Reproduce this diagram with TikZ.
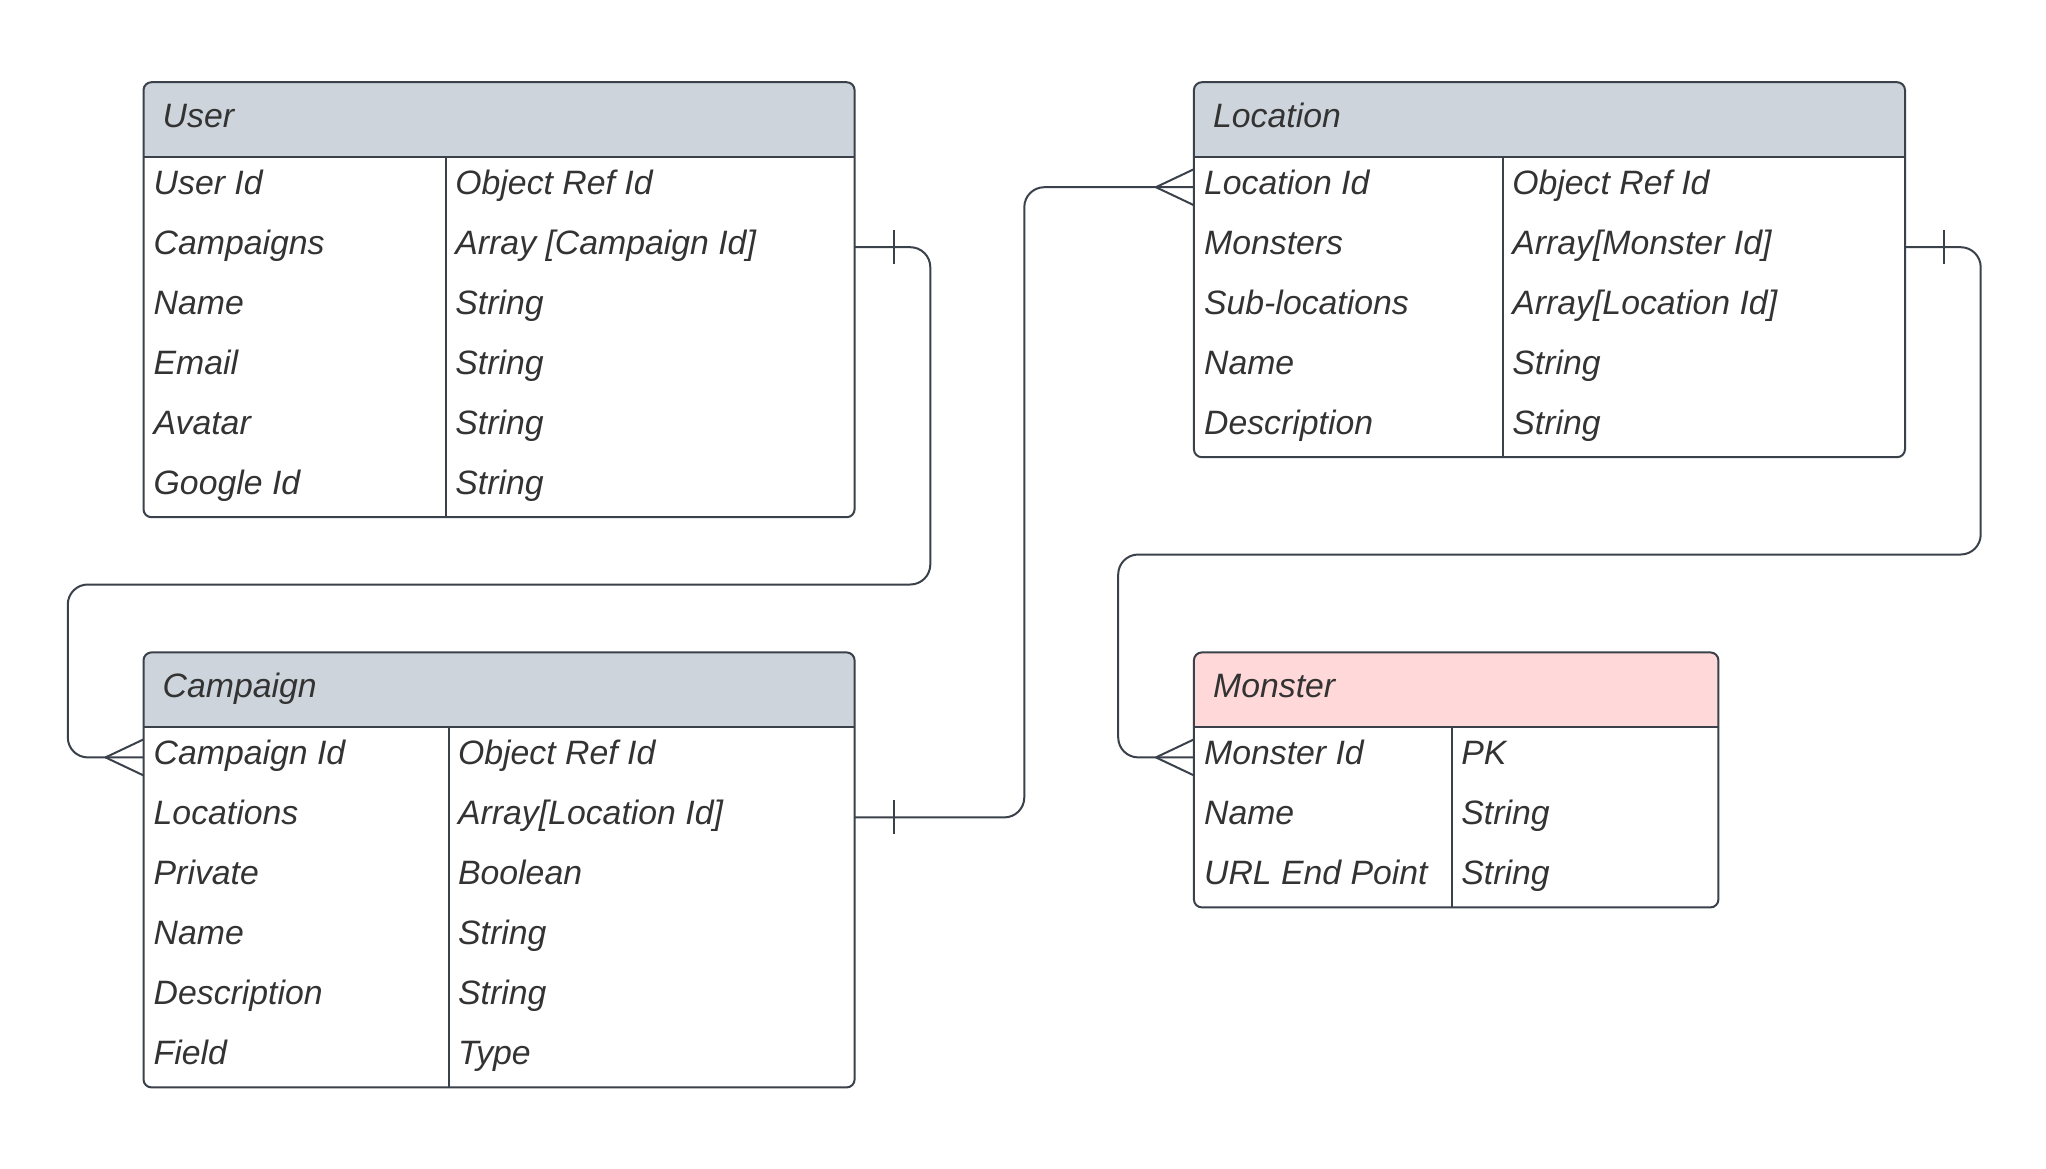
\documentclass[tikz,border=0pt]{standalone}
\usepackage{fontspec}
\setmainfont{Liberation Sans}
\usetikzlibrary{calc}
\definecolor{linec}{HTML}{3A414A}
\definecolor{hdrgray}{HTML}{CED4DB}
\definecolor{hdrpink}{HTML}{FFD9D9}
\definecolor{txt}{HTML}{333333}
\tikzset{
  tblborder/.style={draw=linec, line width=2pt, rounded corners=8pt, inner sep=0pt, outer sep=0pt, anchor=north west},
  tblline/.style={draw=linec, line width=2pt},
  conn/.style={draw=linec, line width=2pt, rounded corners=20pt},
  endmark/.style={draw=linec, line width=2pt},
  celltext/.style={anchor=base west, inner sep=0pt, text=txt, font=\fontsize{33.8}{40}\selectfont\itshape},
}
% #1 name, #2 left, #3 top, #4 right, #5 divider, #6 rows, #7 fill, #8 title
\newcommand{\ertable}[8]{%
  \pgfmathsetmacro{\tbot}{#3+75+60*#6}%
  \pgfmathsetmacro{\twid}{#4-#2}%
  \pgfmathsetmacro{\thei}{75+60*#6}%
  \begin{scope}
    \clip[rounded corners=8pt] (#2,#3) rectangle (#4,\tbot);
    \fill[#7] (#2,#3) rectangle (#4,#3+75);
  \end{scope}
  \node[tblborder, minimum width=\twid pt, minimum height=\thei pt] (#1) at (#2,#3) {};
  \draw[tblline] (#2,#3+75) -- (#4,#3+75);
  \draw[tblline] (#5,#3+75) -- (#5,\tbot);
  \node[celltext] (#1title) at (#2+19,#3+45.5) {#8};
}
% #1 prefix, #2 index, #3 left x, #4 divider x, #5 top, #6 field, #7 type
\newcommand{\fieldrow}[7]{%
  \node[celltext] (#1f#2) at (#3+10, #5+75+60*#2-30+7) {#6};
  \node[celltext] (#1t#2) at (#4+9, #5+75+60*#2-30+7) {#7};
}
\newcommand{\crowfoot}[1]{%
  \draw[endmark] ($(#1)+(-38,0)$) -- ($(#1)+(0,-18)$);
  \draw[endmark] ($(#1)+(-38,0)$) -- ($(#1)+(0,18)$);
}
\newcommand{\onebar}[1]{%
  \draw[endmark] ($(#1)+(39,-17)$) -- ($(#1)+(39,17)$);
}
\begin{document}
\begin{tikzpicture}[x=1pt,y=-1pt]
\useasboundingbox (0,0) rectangle (2046,1168);

% User
\ertable{user}{143.5}{82.2}{854.6}{446.2}{6}{hdrgray}{User}
\fieldrow{u}{1}{143.5}{446.2}{82.2}{User Id}{Object Ref Id}
\fieldrow{u}{2}{143.5}{446.2}{82.2}{Campaigns}{Array [Campaign Id]}
\fieldrow{u}{3}{143.5}{446.2}{82.2}{Name}{String}
\fieldrow{u}{4}{143.5}{446.2}{82.2}{Email}{String}
\fieldrow{u}{5}{143.5}{446.2}{82.2}{Avatar}{String}
\fieldrow{u}{6}{143.5}{446.2}{82.2}{Google Id}{String}

% Campaign
\ertable{campaign}{143.5}{652.4}{854.6}{448.9}{6}{hdrgray}{Campaign}
\fieldrow{c}{1}{143.5}{448.9}{652.4}{Campaign Id}{Object Ref Id}
\fieldrow{c}{2}{143.5}{448.9}{652.4}{Locations}{Array[Location Id]}
\fieldrow{c}{3}{143.5}{448.9}{652.4}{Private}{Boolean}
\fieldrow{c}{4}{143.5}{448.9}{652.4}{Name}{String}
\fieldrow{c}{5}{143.5}{448.9}{652.4}{Description}{String}
\fieldrow{c}{6}{143.5}{448.9}{652.4}{Field}{Type}

% Location
\ertable{location}{1193.9}{82.2}{1905}{1503.1}{5}{hdrgray}{Location}
\fieldrow{l}{1}{1193.9}{1503.1}{82.2}{Location Id}{Object Ref Id}
\fieldrow{l}{2}{1193.9}{1503.1}{82.2}{Monsters}{Array[Monster Id]}
\fieldrow{l}{3}{1193.9}{1503.1}{82.2}{Sub-locations}{Array[Location Id]}
\fieldrow{l}{4}{1193.9}{1503.1}{82.2}{Name}{String}
\fieldrow{l}{5}{1193.9}{1503.1}{82.2}{Description}{String}

% Monster
\ertable{monster}{1193.9}{652.4}{1718.4}{1452.2}{3}{hdrpink}{Monster}
\fieldrow{m}{1}{1193.9}{1452.2}{652.4}{Monster Id}{PK}
\fieldrow{m}{2}{1193.9}{1452.2}{652.4}{Name}{String}
\fieldrow{m}{3}{1193.9}{1452.2}{652.4}{URL End Point}{String}

% connection points
\coordinate (ucamp) at (854.6,247.2);
\coordinate (cid) at (143.5,757.4);
\coordinate (cloc) at (854.6,817.4);
\coordinate (lid) at (1193.9,187.2);
\coordinate (lmon) at (1905,247.2);
\coordinate (mid) at (1193.9,757.4);

% connectors
\draw[conn] (ucamp) -- (930.3,247.2) -- (930.3,584.5) -- (67.8,584.5) -- (67.8,757.4) -- (cid);
\onebar{ucamp}
\crowfoot{cid}

\draw[conn] (cloc) -- (1024.3,817.4) -- (1024.3,187.2) -- (lid);
\onebar{cloc}
\crowfoot{lid}

\draw[conn] (lmon) -- (1980.7,247.2) -- (1980.7,554.5) -- (1118.2,554.5) -- (1118.2,757.4) -- (mid);
\onebar{lmon}
\crowfoot{mid}
\end{tikzpicture}
\end{document}
